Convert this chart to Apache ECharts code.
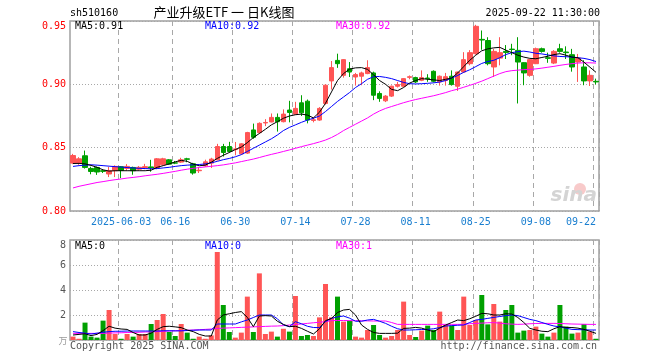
<!DOCTYPE html>
<html><head><meta charset="utf-8">
<script src="https://cdn.jsdelivr.net/npm/echarts@6/dist/echarts.min.js"></script>
<style>html,body{margin:0;padding:0;background:#fff;}#c{width:660px;height:360px;}</style>
</head><body><div id="c"></div>
<script>
const dates = ['2025-05-21','2025-05-22','2025-05-23','2025-05-26','2025-05-27','2025-05-28','2025-05-29','2025-05-30',
'2025-06-03','2025-06-04','2025-06-05','2025-06-06','2025-06-09','2025-06-10','2025-06-11','2025-06-12','2025-06-13',
'2025-06-16','2025-06-17','2025-06-18','2025-06-19','2025-06-20','2025-06-23','2025-06-24','2025-06-25','2025-06-26','2025-06-27',
'2025-06-30','2025-07-01','2025-07-02','2025-07-03','2025-07-04','2025-07-07','2025-07-08','2025-07-09','2025-07-10','2025-07-11',
'2025-07-14','2025-07-15','2025-07-16','2025-07-17','2025-07-18','2025-07-21','2025-07-22','2025-07-23','2025-07-24','2025-07-25',
'2025-07-28','2025-07-29','2025-07-30','2025-07-31','2025-08-01','2025-08-04','2025-08-05','2025-08-06','2025-08-07','2025-08-08',
'2025-08-11','2025-08-12','2025-08-13','2025-08-14','2025-08-15','2025-08-18','2025-08-19','2025-08-20','2025-08-21','2025-08-22',
'2025-08-25','2025-08-26','2025-08-27','2025-08-28','2025-08-29','2025-09-01','2025-09-02','2025-09-03','2025-09-04','2025-09-05',
'2025-09-08','2025-09-09','2025-09-10','2025-09-11','2025-09-12','2025-09-15','2025-09-16','2025-09-17','2025-09-18','2025-09-19',
'2025-09-22'];
const labelDates = ['2025-06-03','2025-06-16','2025-06-30','2025-07-14','2025-07-28','2025-08-11','2025-08-25','2025-09-08','2025-09-22'];

const opens = [.8378,.8378,.8436,.8336,.8344,.8318,.8292,.8318,.8350,.8336,
.8344,.8330,.8340,.8348,.8339,.8365,.8404,.8380,.8386,.8412,
.8373,.8318,.8357,.8378,.8404,.8509,.8509,.8485,.8451,.8457,
.8640,.8619,.8695,.8703,.8739,.8705,.8797,.8765,.8854,.8867,
.8715,.8718,.8849,.9027,.9189,.9071,.9123,.9058,.9064,.9085,
.9090,.8928,.8870,.8907,.8985,.8985,.9055,.9053,.9032,.9050,
.9103,.9019,.9030,.9064,.8985,.9097,.9163,.9242,.9355,.9346,
.9137,.9207,.9260,.9278,.9268,.9171,.9071,.9163,.9281,.9210,
.9168,.9281,.9255,.9234,.9176,.9137,.9027,.9024];
const closes = [.8438,.8412,.8344,.8312,.8308,.8313,.8318,.8352,.8320,.8352,
.8318,.8345,.8350,.8340,.8412,.8412,.8370,.8378,.8404,.8408,
.8300,.8322,.8388,.8410,.8509,.8462,.8470,.8490,.8530,.8619,
.8582,.8692,.8699,.8739,.8705,.8765,.8778,.8810,.8775,.8718,
.8720,.8810,.8993,.9132,.9163,.9195,.9097,.9077,.9090,.9132,
.8914,.8889,.8907,.8985,.8998,.9045,.9060,.9019,.9053,.9045,
.9024,.9064,.9060,.8998,.9097,.9195,.9250,.9458,.9350,.9163,
.9260,.9250,.9252,.9275,.9176,.9090,.9195,.9281,.9260,.9205,
.9260,.9260,.9250,.9137,.9207,.9027,.9071,.9019];
const lows = [.8370,.8365,.8335,.8290,.8285,.8300,.8268,.8268,.8260,.8320,
.8286,.8320,.8330,.8310,.8330,.8360,.8365,.8370,.8380,.8385,
.8287,.8300,.8350,.8340,.8400,.8430,.8460,.8440,.8445,.8450,
.8570,.8610,.8670,.8700,.8627,.8700,.8700,.8760,.8750,.8692,
.8700,.8712,.8840,.8959,.9130,.9053,.9058,.8990,.8993,.9080,
.8875,.8862,.8860,.8900,.8975,.8980,.9040,.9010,.9025,.9020,
.9015,.8990,.8990,.8990,.8948,.9090,.9150,.9235,.9273,.9150,
.9058,.9150,.9200,.9230,.8849,.8993,.9060,.9160,.9250,.9170,
.9160,.9250,.9200,.9100,.9019,.8993,.8987,.9000];
const highs = [.8451,.8425,.8477,.8349,.8350,.8330,.8347,.8360,.8355,.8370,
.8350,.8355,.8372,.8404,.8418,.8420,.8410,.8395,.8420,.8420,
.8380,.8348,.8405,.8420,.8530,.8530,.8546,.8545,.8535,.8625,
.8690,.8700,.8725,.8770,.8770,.8802,.8870,.8862,.8914,.8880,
.8740,.8820,.9000,.9184,.9242,.9200,.9176,.9090,.9100,.9190,
.9100,.8945,.8915,.8990,.9020,.9050,.9070,.9060,.9110,.9080,
.9110,.9070,.9090,.9110,.9100,.9254,.9270,.9470,.9425,.9372,
.9280,.9372,.9310,.9320,.9372,.9175,.9200,.9290,.9290,.9250,
.9270,.9320,.9300,.9280,.9240,.9190,.9110,.9045];

const ma5 = [.8375,.8376,.8372,.8360,.8345,.8325,.8315,.8318,.8318,.8318,
.8318,.8318,.8318,.8322,.8345,.8358,.8372,.8388,.8400,.8392,
.8370,.8357,.8362,.8385,.8415,.8440,.8462,.8485,.8505,.8540,
.8580,.8612,.8645,.8680,.8705,.8732,.8750,.8760,.8765,.8757,
.8735,.8780,.8850,.8940,.9030,.9085,.9120,.9130,.9132,.9118,
.9075,.9030,.9000,.8960,.8950,.8975,.9010,.9030,.9045,.9040,
.9035,.9030,.9040,.9050,.9090,.9140,.9190,.9230,.9265,.9280,
.9288,.9292,.9270,.9250,.9230,.9215,.9205,.9202,.9212,.9222,
.9235,.9242,.9230,.9215,.9210,.9175,.9135,.9095];
const ma10 = [.8352,.8358,.8362,.8365,.8362,.8358,.8354,.8350,.8347,.8343,
.8340,.8337,.8335,.8333,.8335,.8340,.8345,.8352,.8358,.8362,
.8365,.8367,.8372,.8380,.8392,.8405,.8415,.8428,.8445,.8470,
.8495,.8520,.8545,.8570,.8600,.8635,.8660,.8680,.8700,.8718,
.8732,.8750,.8785,.8825,.8865,.8900,.8935,.8975,.9005,.9040,
.9060,.9062,.9055,.9045,.9030,.9015,.9005,.9003,.9005,.9008,
.9012,.9018,.9030,.9050,.9070,.9095,.9115,.9140,.9165,.9180,
.9190,.9210,.9235,.9250,.9258,.9262,.9255,.9245,.9240,.9232,
.9225,.9220,.9218,.9215,.9210,.9205,.9195,.9180];
const ma30 = [.8182,.8195,.8205,.8215,.8225,.8232,.8240,.8247,.8253,.8260,
.8265,.8271,.8278,.8284,.8290,.8297,.8305,.8313,.8322,.8330,
.8337,.8343,.8348,.8353,.8358,.8364,.8372,.8380,.8390,.8400,
.8410,.8422,.8435,.8447,.8458,.8470,.8482,.8495,.8508,.8520,
.8532,.8545,.8560,.8580,.8605,.8635,.8660,.8685,.8710,.8735,
.8765,.8790,.8810,.8825,.8840,.8855,.8868,.8880,.8890,.8900,
.8910,.8922,.8935,.8950,.8962,.8977,.8992,.9008,.9025,.9045,
.9065,.9085,.9100,.9108,.9112,.9116,.9118,.9122,.9128,.9135,
.9142,.9150,.9157,.9163,.9168,.9170,.9170,.9168];

const volumes = [.27,.10,1.39,.27,.19,1.55,2.4,.48,.10,.48,
.27,.48,.48,1.28,1.6,2.08,.64,.32,1.28,.59,
.10,.27,.10,.37,7.04,2.8,.64,.19,.59,3.47,
.64,5.33,.48,.67,.27,.9,.67,3.52,.32,.4,
.32,1.81,4.48,1.81,3.47,1.47,1.55,.27,.19,.8,
1.2,.4,.19,.32,.8,3.07,.4,.24,.75,1.15,
.8,2.27,1.2,1.15,.8,3.47,1.2,1.6,3.6,1.25,
2.88,1.47,2.4,2.8,.59,.75,.8,1.07,.51,.27,
.59,2.8,1.07,.51,.59,1.28,.67,.1];
const volMa5 = [.40,.45,.50,.35,.45,.75,1.1,.95,.88,.85,
.60,.40,.40,.55,.85,1.07,1.1,1.05,.99,.80,
.67,.45,.32,.32,1.6,2.0,2.1,2.2,2.27,1.81,
1.07,1.92,1.95,1.92,1.5,1.25,1.07,1.1,.93,.7,
.48,.9,1.55,1.73,2.2,2.4,2.45,2.0,1.2,.85,
.6,.53,.53,.53,.55,.93,.95,1.01,.95,.8,
.67,.95,1.2,1.4,1.6,1.55,1.7,1.9,2.13,2.1,
2.0,2.0,2.1,2.08,1.8,1.4,.93,.8,.7,.67,
.9,1.07,1.01,1.0,.95,.85,.7,.53];
const volMa10 = [.67,.6,.55,.48,.55,.62,.67,.7,.7,.72,
.72,.72,.72,.72,.72,.74,.74,.73,.73,.76,
.78,.8,.8,.8,1.28,1.28,1.28,1.28,1.45,1.6,
1.8,2.0,2.0,2.0,1.7,1.2,1.07,1.47,1.3,1.1,
1.0,.99,1.47,1.73,1.85,1.92,1.75,1.5,1.5,1.6,
1.65,1.5,1.33,1.1,.9,.8,.8,.82,.84,.85,
.9,1.0,1.12,1.15,1.18,1.2,1.4,1.6,1.65,1.73,
1.81,1.88,1.95,2.0,1.95,1.8,1.65,1.55,1.4,1.25,
1.12,1.05,.95,.85,.83,.82,.8,.8];
const volMa30 = [.53,.53,.53,.53,.53,.53,.55,.57,.58,.6,
.61,.62,.64,.65,.67,.69,.72,.74,.76,.78,
.8,.82,.85,.88,.93,.95,.97,.99,1.01,1.03,
1.05,1.07,1.09,1.11,1.12,1.15,1.2,1.24,1.28,1.33,
1.38,1.42,1.47,1.55,1.56,1.56,1.55,1.55,1.54,1.53,
1.52,1.52,1.52,1.4,1.25,1.25,1.25,1.25,1.25,1.25,
1.25,1.25,1.25,1.25,1.25,1.25,1.3,1.33,1.35,1.38,
1.39,1.35,1.3,1.27,1.25,1.27,1.3,1.32,1.33,1.33,
1.33,1.32,1.3,1.28,1.27,1.26,1.25,1.25];

const priceTicks = [0.80, 0.85, 0.90, 0.95];
const volTicks = [0, 2, 4, 6, 8];

const RED = '#ff5555', GREEN = '#00a000';
const MONO = '"DejaVu Sans Mono", "Liberation Mono", monospace';
const isLabel = (i) => labelDates.indexOf(dates[i]) >= 0;
const kData = dates.map((d, i) => [opens[i], closes[i], lows[i], highs[i]]);
const volData = volumes.map((v, i) => ({value: v, itemStyle: {color: closes[i] >= opens[i] ? RED : GREEN}}));

const gridLeft = 70, gridW = 529;
const frame = {show: true, borderColor: '#a0a0a0', borderWidth: 1.5, backgroundColor: 'transparent'};
const vSplit = {show: true, interval: (i) => isLabel(i), lineStyle: {color: '#a8a8a8', type: [5, 4], width: 1}};
const hSplit = {show: true, lineStyle: {color: '#a8a8a8', type: [1, 2], width: 1}};

const chart = echarts.init(document.getElementById('c'));
function txt(text, x, y, color, align, font) {
  return {type: 'text', silent: true, z: 10, style: {text, x, y, fill: color, textAlign: align || 'left', align: align || 'left', textVerticalAlign: 'middle', verticalAlign: 'middle', font: font || ('10px ' + MONO)}};
}
chart.setOption({
  animation: false,
  backgroundColor: '#fff',
  grid: [
    Object.assign({left: gridLeft, top: 21, width: gridW, height: 190}, frame),
    Object.assign({left: gridLeft, top: 240, width: gridW, height: 100}, frame)
  ],
  xAxis: [
    {type: 'category', gridIndex: 0, data: dates, boundaryGap: true,
     axisLine: {show: false}, axisTick: {show: false},
     axisLabel: {interval: (i) => isLabel(i), color: '#1a7fd0', fontFamily: MONO, fontSize: 10, margin: 6,
       alignMaxLabel: 'right',
       formatter: (v) => v === labelDates[0] ? v : v.slice(5)},
     splitLine: vSplit},
    {type: 'category', gridIndex: 1, data: dates, boundaryGap: true,
     axisLine: {show: false}, axisTick: {show: false}, axisLabel: {show: false},
     splitLine: vSplit}
  ],
  yAxis: [
    {type: 'value', gridIndex: 0, min: priceTicks[0], max: priceTicks[priceTicks.length - 1], interval: 0.05,
     axisLine: {show: false}, axisTick: {show: false},
     axisLabel: {color: '#ff0000', fontFamily: MONO, fontSize: 10, margin: 4, formatter: (v) => v.toFixed(2),
       verticalAlignMaxLabel: 'top'},
     splitLine: hSplit},
    {type: 'value', gridIndex: 1, min: volTicks[0], max: volTicks[volTicks.length - 1], interval: 2,
     axisLine: {show: false}, axisTick: {show: false},
     axisLabel: {color: '#555', fontFamily: MONO, fontSize: 10, margin: 4, formatter: (v) => v === 0 ? '' : String(v),
       verticalAlignMaxLabel: 'top'},
     splitLine: hSplit}
  ],
  series: [
    {type: 'candlestick', xAxisIndex: 0, yAxisIndex: 0, data: kData, barWidth: 5,
     itemStyle: {color: RED, color0: GREEN, borderColor: RED, borderColor0: GREEN, borderWidth: 1}},
    {type: 'line', xAxisIndex: 0, yAxisIndex: 0, data: ma30, showSymbol: false, lineStyle: {color: '#ff00ff', width: 1}},
    {type: 'line', xAxisIndex: 0, yAxisIndex: 0, data: ma10, showSymbol: false, lineStyle: {color: '#0000ff', width: 1}},
    {type: 'line', xAxisIndex: 0, yAxisIndex: 0, data: ma5, showSymbol: false, lineStyle: {color: '#000000', width: 1}},
    {type: 'bar', xAxisIndex: 1, yAxisIndex: 1, data: volData, barWidth: 5},
    {type: 'line', xAxisIndex: 1, yAxisIndex: 1, data: volMa30, showSymbol: false, lineStyle: {color: '#ff00ff', width: 1}},
    {type: 'line', xAxisIndex: 1, yAxisIndex: 1, data: volMa10, showSymbol: false, lineStyle: {color: '#0000ff', width: 1}},
    {type: 'line', xAxisIndex: 1, yAxisIndex: 1, data: volMa5, showSymbol: false, lineStyle: {color: '#000000', width: 1}}
  ],
  graphic: [
    txt('sh510160', 70, 13, '#000'),
    txt('产业升级ETF 一 日K线图', 224, 12, '#000', 'center', '13px "Noto Sans CJK SC", sans-serif'),
    txt('2025-09-22 11:30:00', 600, 13, '#000', 'right'),
    txt('MA5:0.91', 75, 26, '#000'),
    txt('MA10:0.92', 205, 26, '#0000ff'),
    txt('MA30:0.92', 336, 26, '#ff00ff'),
    txt('MA5:0', 75, 246, '#000'),
    txt('MA10:0', 205, 246, '#0000ff'),
    txt('MA30:1', 336, 246, '#ff00ff'),
    txt('Copyright 2025 SINA.COM', 70, 346, '#555'),
    txt('http://finance.sina.com.cn', 597, 346, '#555', 'right'),
    txt('万', 63, 341, '#999', 'center', '9px "Noto Sans CJK SC", sans-serif'),
    {type: 'circle', silent: true, z: 1, shape: {cx: 580, cy: 189, r: 6}, style: {fill: '#f8caca'}},
    {type: 'text', silent: true, z: 1, style: {text: 'sina', x: 597, y: 206, fill: '#d4d4d4', align: 'right', textAlign: 'right', verticalAlign: 'bottom', textVerticalAlign: 'bottom', font: 'italic bold 20px "DejaVu Sans", sans-serif'}}
  ]
});
</script>
</body></html>
